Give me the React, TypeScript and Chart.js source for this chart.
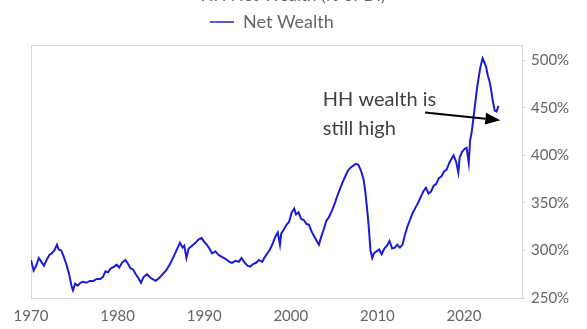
import React, { useEffect, useRef } from "react";
import { Chart, registerables } from "chart.js";

Chart.register(...registerables);

const years: number[] = [
  1970.0, 1970.3, 1970.6, 1970.9, 1971.2, 1971.5, 1971.8, 1972.1, 1972.4, 1972.7,
  1973.0, 1973.2, 1973.5, 1973.8, 1974.1, 1974.4, 1974.7, 1974.85, 1975.1, 1975.4,
  1975.7, 1976.0, 1976.4, 1976.8, 1977.2, 1977.6, 1978.0, 1978.3, 1978.6, 1978.9,
  1979.2, 1979.6, 1979.9, 1980.2, 1980.5, 1980.9, 1981.2, 1981.5, 1981.8, 1982.1,
  1982.4, 1982.7, 1983.0, 1983.4, 1983.7, 1984.0, 1984.4, 1984.8, 1985.2, 1985.6,
  1986.0, 1986.4, 1986.8, 1987.2, 1987.5, 1987.7, 1987.95, 1988.2, 1988.6, 1989.0,
  1989.4, 1989.7, 1990.0, 1990.3, 1990.6, 1990.9, 1991.3, 1991.7, 1992.1, 1992.5,
  1992.9, 1993.2, 1993.6, 1994.0, 1994.3, 1994.7, 1995.0, 1995.3, 1995.7, 1996.0,
  1996.3, 1996.7, 1997.0, 1997.3, 1997.6, 1997.9, 1998.2, 1998.5, 1998.75, 1998.9,
  1999.2, 1999.5, 1999.8, 2000.1, 2000.4, 2000.6, 2000.9, 2001.2, 2001.5, 2001.8,
  2002.1, 2002.4, 2002.7, 2003.0, 2003.25, 2003.5, 2003.8, 2004.1, 2004.4, 2004.8,
  2005.1, 2005.4, 2005.7, 2006.0, 2006.3, 2006.6, 2006.9, 2007.2, 2007.5, 2007.8,
  2008.1, 2008.4, 2008.6, 2008.8, 2009.0, 2009.2, 2009.4, 2009.6, 2009.9, 2010.2,
  2010.5, 2010.8, 2011.1, 2011.4, 2011.7, 2012.0, 2012.3, 2012.6, 2012.9, 2013.2,
  2013.5, 2013.8, 2014.1, 2014.4, 2014.7, 2015.0, 2015.3, 2015.6, 2015.9, 2016.2,
  2016.5, 2016.8, 2017.1, 2017.4, 2017.7, 2018.0, 2018.3, 2018.6, 2018.8, 2019.1,
  2019.35, 2019.5, 2019.8, 2020.1, 2020.3, 2020.55, 2020.7, 2020.9, 2021.1, 2021.3,
  2021.5, 2021.7, 2021.9, 2022.15, 2022.35, 2022.55, 2022.75, 2022.95, 2023.15, 2023.35,
  2023.55, 2023.75, 2024.0,
];

const netWealth: number[] = [
  290, 279, 284, 292, 288, 284, 290, 295, 297, 300,
  306, 301, 300, 293, 285, 275, 262, 258, 265, 263,
  266, 267, 266, 268, 268, 270, 270, 272, 278, 277,
  281, 283, 285, 282, 287, 290, 286, 281, 280, 275,
  271, 266, 272, 275, 272, 270, 268, 271, 275, 279,
  285, 292, 300, 308, 303, 305, 292, 302, 305, 308,
  312, 313, 309, 306, 302, 297, 299, 295, 293, 291,
  288, 287, 289, 288, 292, 287, 284, 283, 286, 287,
  290, 288, 293, 297, 301, 307, 314, 319, 306, 318,
  322, 327, 330, 340, 344, 338, 340, 333, 332, 328,
  327, 320, 315, 310, 306, 314, 322, 331, 335, 343,
  350, 358, 365, 372, 378, 384, 387, 389, 391, 390,
  384, 375, 362, 345, 325, 300, 292, 297, 299, 301,
  296, 302, 305, 310, 302, 303, 306, 303, 306, 317,
  326, 333, 340, 345, 350, 356, 362, 366, 360, 362,
  368, 370, 376, 378, 383, 385, 392, 397, 400, 393,
  382, 398, 404, 407, 408, 392, 415, 425, 440, 455,
  470, 482, 493, 502, 498, 493, 484, 478, 468, 456,
  447, 446, 452,
];

const yTicks: number[] = [250, 300, 350, 400, 450, 500];
const xTicks: number[] = [1970, 1980, 1990, 2000, 2010, 2020];
const seriesName = "Net Wealth";
const titleText = "HH Net Wealth (% of DI)";
const noteLines: string[] = ["HH wealth is", "still high"];
// annotation anchor positions in data coordinates
const noteAt = { x: 2003.7, y: 459 };
const arrowFrom = { x: 2015.5, y: 445 };
const arrowTo = { x: 2024.2, y: 437 };

const LINE_COLOR = "#1c1cd8";
const AXIS_COLOR = "#d9d9d9";
const TEXT_COLOR = "#656565";
const FONT = "Lato, 'Open Sans', sans-serif";

export default function App() {
  const ref = useRef<HTMLCanvasElement | null>(null);

  useEffect(() => {
    document.body.style.margin = "0";
    const canvas = ref.current;
    if (!canvas) return;

    const decor = {
      id: "decor",
      beforeDatasetsDraw(chart: any) {
        const { ctx, chartArea } = chart;
        ctx.save();
        ctx.strokeStyle = AXIS_COLOR;
        ctx.lineWidth = 1;
        ctx.beginPath();
        ctx.moveTo(chartArea.right, chartArea.top + 0.5);
        ctx.lineTo(chartArea.left + 0.5, chartArea.top + 0.5);
        ctx.lineTo(chartArea.left + 0.5, chartArea.bottom);
        ctx.stroke();
        ctx.restore();
      },
      afterDraw(chart: any) {
        const { ctx } = chart;
        const xs = chart.scales.x;
        const ys = chart.scales.y;
        ctx.save();
        // clipped title
        ctx.fillStyle = TEXT_COLOR;
        ctx.font = `17px ${FONT}`;
        ctx.textAlign = "center";
        ctx.textBaseline = "alphabetic";
        ctx.fillText(titleText, 293, 1);
        // legend
        ctx.strokeStyle = "#5a5ae0";
        ctx.lineWidth = 2;
        ctx.beginPath();
        ctx.moveTo(210, 22);
        ctx.lineTo(234, 22);
        ctx.stroke();
        ctx.textAlign = "left";
        ctx.textBaseline = "middle";
        ctx.font = `18px ${FONT}`;
        ctx.fillText(seriesName, 243, 22);
        // annotation text
        ctx.fillStyle = "#404040";
        ctx.font = `20px ${FONT}`;
        const tx = xs.getPixelForValue(noteAt.x);
        const ty = ys.getPixelForValue(noteAt.y);
        noteLines.forEach((l, i) => ctx.fillText(l, tx, ty + i * 29));
        // arrow
        const x1 = xs.getPixelForValue(arrowFrom.x);
        const y1 = ys.getPixelForValue(arrowFrom.y);
        const x2 = xs.getPixelForValue(arrowTo.x);
        const y2 = ys.getPixelForValue(arrowTo.y);
        const ang = Math.atan2(y2 - y1, x2 - x1);
        const head = 15;
        const bx = x2 - head * Math.cos(ang);
        const by = y2 - head * Math.sin(ang);
        ctx.strokeStyle = "#000";
        ctx.fillStyle = "#000";
        ctx.lineWidth = 2;
        ctx.beginPath();
        ctx.moveTo(x1, y1);
        ctx.lineTo(bx, by);
        ctx.stroke();
        ctx.beginPath();
        ctx.moveTo(x2, y2);
        ctx.lineTo(bx + 6 * Math.sin(ang), by - 6 * Math.cos(ang));
        ctx.lineTo(bx - 6 * Math.sin(ang), by + 6 * Math.cos(ang));
        ctx.closePath();
        ctx.fill();
        ctx.restore();
      },
    };

    const chart = new Chart(canvas, {
      type: "line",
      data: {
        datasets: [
          {
            label: seriesName,
            data: years.map((y, i) => ({ x: y, y: netWealth[i] })),
            borderColor: LINE_COLOR,
            borderWidth: 2,
            pointRadius: 0,
            tension: 0,
            fill: false,
          },
        ],
      },
      options: {
        responsive: false,
        animation: false,
        layout: { padding: { left: 31, top: 45, right: 0, bottom: 0 } },
        plugins: {
          legend: { display: false },
          tooltip: { enabled: false },
          title: { display: false },
        },
        scales: {
          x: {
            type: "linear",
            min: 1970,
            max: 2026.7,
            afterBuildTicks: (s: any) => {
              s.ticks = xTicks.map((v) => ({ value: v }));
            },
            afterFit: (s: any) => {
              s.height = 31;
            },
            grid: { display: false, drawTicks: false },
            border: { display: true, color: AXIS_COLOR },
            ticks: {
              color: TEXT_COLOR,
              font: { family: FONT, size: 15 },
              padding: 9,
              maxRotation: 0,
              autoSkip: false,
              callback: (v: any) => String(v),
            },
          },
          y: {
            type: "linear",
            position: "right",
            min: 250,
            max: 516,
            afterBuildTicks: (s: any) => {
              s.ticks = yTicks.map((v) => ({ value: v }));
            },
            afterFit: (s: any) => {
              s.width = 65;
            },
            grid: { drawOnChartArea: false, drawTicks: true, tickLength: 4, color: AXIS_COLOR },
            border: { display: true, color: AXIS_COLOR },
            ticks: {
              color: TEXT_COLOR,
              font: { family: FONT, size: 15 },
              padding: 5,
              callback: (v: any) => `${v}%`,
            },
          },
        },
      },
      plugins: [decor],
    });

    return () => chart.destroy();
  }, []);

  return (
    <div style={{ position: "absolute", left: 0, top: 0, width: 587, height: 329, background: "#fff" }}>
      <canvas ref={ref} width={587} height={329} />
    </div>
  );
}
